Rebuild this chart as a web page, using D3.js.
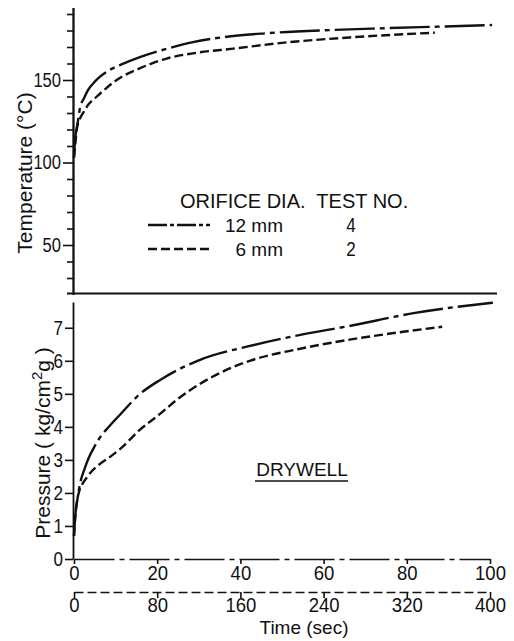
<!DOCTYPE html>
<html><head><meta charset="utf-8">
<script src="https://cdn.jsdelivr.net/npm/d3@7"></script>
<style>
body{margin:0;background:#fff;}
svg{display:block;}
text{font-family:"Liberation Sans",Arial,sans-serif;fill:#111;}
</style></head>
<body>
<svg id="c" width="514" height="641"></svg>
<script>
// ---- data ----
const time12Temp = [0,0.25,0.6,1.0,1.44,2.4,3.4,5,6.25,8.5,11,16,22.4,28.6,36,46,62,75,87,100.5];
const temp12     = [103,114,120,126,133,139,144,149,152,156,159,164,169,173,176,178.3,180.3,181.4,182.3,183.3];
const time6Temp  = [0,1.5,2.9,6,8.7,12.5,22,30,41,63,89,118,153,200,265,347];
const temp6      = [103,113,121,127,130,134,140,144.5,150,157,163,166.5,169,172.5,175.8,178.7];
const time12Pres = [0,0.3,0.7,1.4,2.6,3.5,5,6.25,8.5,11,15.9,20.7,30.3,42.3,55,66,82,100.7];
const pres12     = [0.7,1.3,1.7,2.25,2.75,3.05,3.42,3.68,4.02,4.36,5.0,5.42,6.03,6.45,6.8,7.05,7.45,7.76];
const time6Pres  = [0,1.5,2.9,5,7.7,12,16,25,35,45,63,83,100,121,145,169,215,265,310,354];
const pres6      = [0.7,1.4,1.75,2.05,2.25,2.45,2.62,2.88,3.1,3.35,3.9,4.4,4.85,5.3,5.7,6.0,6.35,6.64,6.85,7.03];
const tempMajorTicks = [50,100,150];
const tempMinorTicks = [30,40,60,70,80,90,110,120,130,140,160,170,180,190];
const presTicks  = [0,1,2,3,4,5,6,7];
const time12Ticks = [0,20,40,60,80,100];
const time6Ticks  = [0,80,160,240,320,400];
const legendRows = [
  {dia:"12 mm", test:"4", dash:"dashdot"},
  {dia:"6 mm",  test:"2", dash:"dashed"}
];

// ---- layout ----
const svg = d3.select("#c");
const X0 = 74, X1 = 490, AX = 73;
const DASHDOT = "40,5,5,5", DASHED = "9,4";
const x12 = d3.scaleLinear().domain([0,100]).range([X0,X1]);
const x6  = d3.scaleLinear().domain([0,400]).range([X0,X1]);
const yT  = d3.scaleLinear().domain([20,194]).range([294.5,7.4]);
const yP  = d3.scaleLinear().domain([0,7.78]).range([559,302]);

function styleAxis(g, w, digitW){
  g.selectAll("path.domain").attr("stroke","#111").attr("stroke-width",w);
  g.selectAll(".tick line").attr("stroke","#111").attr("stroke-width",1.6);
  g.selectAll(".tick text").attr("font-size",20).attr("fill","#111")
    .each(function(){
      const t = d3.select(this).text();
      if (t && digitW) d3.select(this).attr("textLength", t.length*digitW).attr("lengthAdjust","spacingAndGlyphs");
    });
}

// top panel y axis
const gT = svg.append("g").attr("transform",`translate(${AX},0)`)
  .call(d3.axisLeft(yT).tickValues(tempMajorTicks).tickSize(10).tickSizeOuter(0).tickPadding(2));
styleAxis(gT,1.8,9.2);
const gTm = svg.append("g").attr("transform",`translate(${AX},0)`)
  .call(d3.axisLeft(yT).tickValues(tempMinorTicks).tickSize(6).tickFormat("").tickSizeOuter(0));
styleAxis(gTm,1.8,0);
// top panel bottom line
svg.append("line").attr("x1",67).attr("x2",497).attr("y1",yT(20)-1).attr("y2",yT(20)-1)
  .attr("stroke","#111").attr("stroke-width",1.8);

// bottom panel y axis
const gP = svg.append("g").attr("transform",`translate(${AX},0)`)
  .call(d3.axisLeft(yP).tickValues(presTicks).tickSize(8).tickSizeOuter(0).tickPadding(2));
styleAxis(gP,1.8,9.5);

// x axes
const gX1 = svg.append("g").attr("transform",`translate(0,${yP(0)})`)
  .call(d3.axisBottom(x12).tickValues(time12Ticks).tickSize(5).tickSizeOuter(0).tickPadding(2));
styleAxis(gX1,1.6,10.3);
gX1.select("path.domain").attr("stroke-dasharray",DASHDOT);
const gX2 = svg.append("g").attr("transform",`translate(0,592)`)
  .call(d3.axisBottom(x6).tickValues(time6Ticks).tickSize(6).tickSizeOuter(0).tickPadding(0));
styleAxis(gX2,1.6,10.3);
gX2.select("path.domain").attr("stroke-dasharray",DASHED);

svg.append("text").attr("x",304).attr("y",634).attr("text-anchor","middle")
  .attr("font-size",19).text("Time (sec)");

// axis titles
svg.append("text").attr("transform","translate(32,173) rotate(-90)").attr("text-anchor","middle")
  .attr("font-size",21).text("Temperature (°C)");
const pt = svg.append("text").attr("transform","translate(50,443) rotate(-90)").attr("text-anchor","middle")
  .attr("font-size",21);
pt.append("tspan").text("Pressure ( kg/cm");
pt.append("tspan").attr("dy",-8).attr("font-size",15).text("2");
pt.append("tspan").attr("dy",8).text("g )");

// curves
const line = (xs, ys, tx, ty) => d3.line().curve(d3.curveMonotoneX)
  .x((d,i)=>tx(xs[i])).y((d,i)=>ty(ys[i]))(xs);
function curve(xs, ys, tx, ty, dash){
  svg.append("path").attr("d", line(xs,ys,tx,ty)).attr("fill","none")
    .attr("stroke","#111").attr("stroke-width",2.4).attr("stroke-dasharray",dash);
}
curve(time12Temp, temp12, x12, yT, DASHDOT);
curve(time6Temp, temp6, x6, yT, DASHED);
curve(time12Pres, pres12, x12, yP, DASHDOT);
curve(time6Pres, pres6, x6, yP, DASHED);

// legend
svg.append("text").attr("x",180).attr("y",208).attr("font-size",20)
  .attr("xml:space","preserve").text("ORIFICE DIA.  TEST NO.");
legendRows.forEach((r,i)=>{
  const yy = 225 + i*24;
  svg.append("line").attr("x1",148).attr("x2",210).attr("y1",yy).attr("y2",yy)
    .attr("stroke","#111").attr("stroke-width",2.4)
    .attr("stroke-dasharray", r.dash==="dashdot" ? "19,3,4,3" : DASHED);
  svg.append("text").attr("x",283).attr("y",yy+7).attr("text-anchor","end").attr("font-size",19).text(r.dia);
  svg.append("text").attr("x",351).attr("y",yy+7).attr("text-anchor","middle").attr("font-size",20)
    .attr("textLength",9.5).attr("lengthAdjust","spacingAndGlyphs").text(r.test);
});

// DRYWELL label
svg.append("text").attr("x",302).attr("y",476).attr("text-anchor","middle").attr("font-size",19).text("DRYWELL");
svg.append("line").attr("x1",255).attr("x2",348).attr("y1",481).attr("y2",481).attr("stroke","#111").attr("stroke-width",1.6);
</script>
</body></html>
